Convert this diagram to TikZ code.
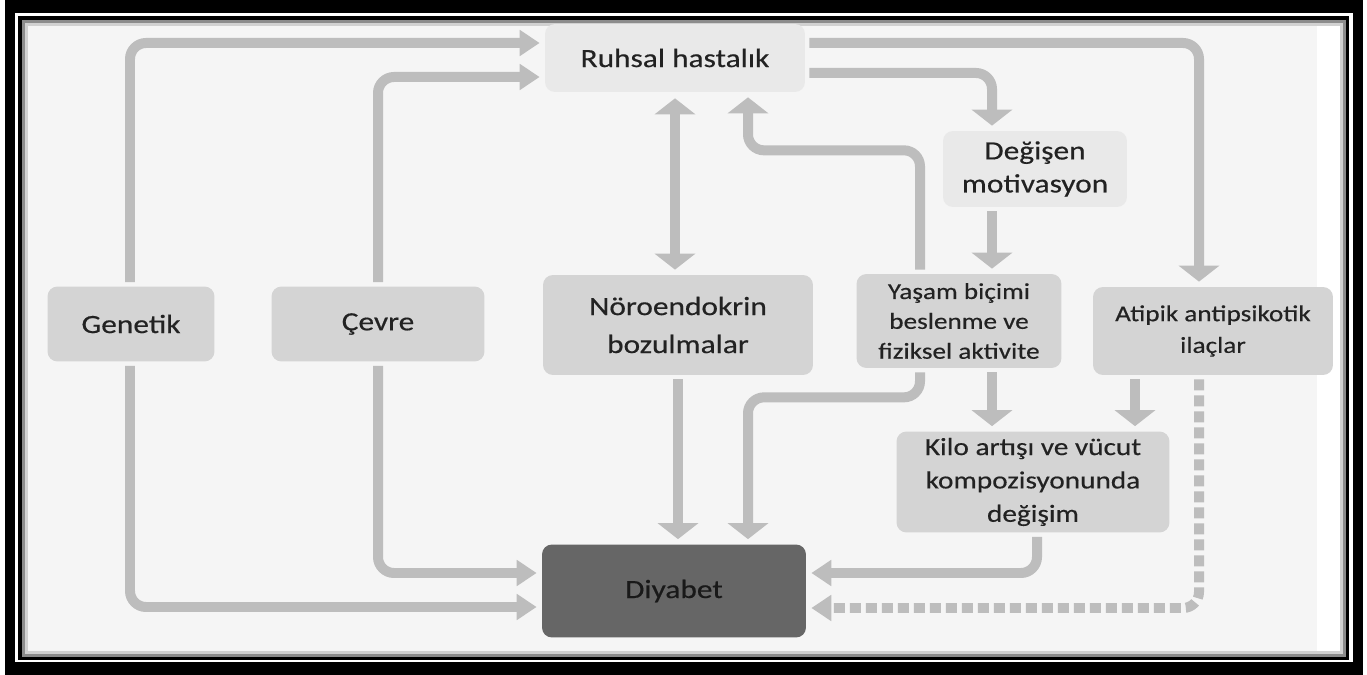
\documentclass[tikz,border=0pt]{standalone}
\usepackage{fontspec}
\setmainfont{Carlito}[FakeStretch=1.19, FakeBold=0.4]
\usetikzlibrary{calc}
\usetikzlibrary{arrows.meta}

\definecolor{boxgray}{HTML}{D4D4D4}
\definecolor{boxlight}{HTML}{E9E9E9}
\definecolor{diagray}{HTML}{666666}
\definecolor{conngray}{HTML}{BDBDBD}
\definecolor{txtgray}{HTML}{222222}
\definecolor{bggray}{HTML}{F5F5F5}

\tikzset{
  box/.style={fill=boxgray, rounded corners=0.2cm, inner sep=0pt, align=center,
    text=txtgray, font=\fontsize{15}{19}\selectfont},
  conn/.style={draw=conngray, line width=0.2cm, rounded corners=0.32cm,
    shorten <=0.08cm, shorten >=0.1cm},
  tipv/.style={-{Triangle[width=0.8cm,length=0.32cm]}},
  tiph/.style={-{Triangle[width=0.5cm,length=0.4cm]}},
}

\begin{document}
\begin{tikzpicture}[x=0.02cm, y=-0.02cm]
\useasboundingbox (0,0) rectangle (1367,675);
% frame
\fill[black] (5,0) rectangle (1363,675);
\fill[white] (15,13) rectangle (1353,662);
\fill[black] (18,16) rectangle (1349,660);
\fill[white] (22,20) rectangle (1346,657);
\fill[bggray] (22,20) rectangle (1317,657);
\draw[black!45, line width=0.06cm] (23.5,21.5) rectangle (1344.5,655.5);
\draw[black!18, line width=0.06cm] (26.5,24.5) rectangle (1341.5,652.5);

% boxes
\node[box, fill=boxlight, minimum width=5.2cm, minimum height=1.36cm] (ruhsal) at (675,58) {Ruhsal hastalık};
\node[box, fill=boxlight, minimum width=3.68cm, minimum height=1.52cm, font=\fontsize{15}{18.8}\selectfont] (degisen) at (1035,169) {Değişen\\motivasyon};
\node[box, minimum width=3.34cm, minimum height=1.5cm] (genetik) at (131,324) {Genetik};
\node[box, minimum width=4.26cm, minimum height=1.5cm] (cevre) at (378,324) {Çevre};
\node[box, minimum width=5.4cm, minimum height=2cm, font=\fontsize{15}{21.6}\selectfont] (noro) at (678,325) {Nöroendokrin\\bozulmalar};
\node[box, minimum width=4.1cm, minimum height=1.88cm, font=\fontsize{13}{17}\selectfont] (yasam) at (959,321) {Yaşam biçimi\\beslenme ve\\fiziksel aktivite};
\node[box, minimum width=4.8cm, minimum height=1.76cm, font=\fontsize{13}{18}\selectfont] (atipik) at (1213,331) {Atipik antipsikotik\\ilaçlar};
\node[box, minimum width=5.46cm, minimum height=2.02cm, font=\fontsize{14}{19}\selectfont] (kilo) at (1033,482) {Kilo artışı ve vücut\\kompozisyonunda\\değişim};
\node[box, fill=diagray, text=black!90, minimum width=5.28cm, minimum height=1.86cm] (diyabet) at (674,591) {Diyabet};

% connectors
\draw[conn,tiph] ($(genetik.north)+(-1,0)$) |- ($(ruhsal.west)+(0,-15)$);
\draw[conn,tiph] ($(genetik.south)+(-1,0)$) |- ($(diyabet.west)+(0,16)$);
\draw[conn,tiph] (cevre.north) |- ($(ruhsal.west)+(0,19)$);
\draw[conn,tiph] (cevre.south) |- ($(diyabet.west)+(0,-18)$);
\draw[conn,{Triangle[width=0.8cm,length=0.32cm]}-{Triangle[width=0.8cm,length=0.32cm]}, shorten <=0.1cm, shorten >=0.12cm] ($(noro.north)+(-3,0)$) -- (ruhsal.south);
\draw[conn,tipv] ($(yasam.north)+(-39,0)$) |- ($(ruhsal.south)+(73,58)$) -- ($(ruhsal.south)+(73,0)$);
\draw[conn,tipv] ($(ruhsal.east)+(0,15)$) -| ($(degisen.north)+(-43,0)$);
\draw[conn,tipv] ($(ruhsal.east)+(0,-15)$) -| ($(atipik.north)+(-14,0)$);
\draw[conn,tipv] ($(degisen.south)+(-43,0)$) -- ($(yasam.north)+(33,0)$);
\draw[conn,tipv] ($(yasam.south)+(33,0)$) -- ($(kilo.north)+(-41,0)$);
\draw[conn,tipv] ($(atipik.south)+(-78,0)$) -- ($(kilo.north)+(102,0)$);
\draw[conn,tipv] ($(yasam.south)+(-39,0)$) -- ++(0,29) -| ($(diyabet.north)+(74,0)$);
\draw[conn,tipv] (noro.south) -- (noro.south |- diyabet.north);
\draw[conn,tiph] ($(kilo.south)+(4,0)$) |- ($(diyabet.east)+(0,-18)$);
\draw[conn,tiph,dash pattern=on 0.22cm off 0.1cm] ($(atipik.south)+(-14,0)$) |- ($(diyabet.east)+(0,17)$);
\end{tikzpicture}
\end{document}
